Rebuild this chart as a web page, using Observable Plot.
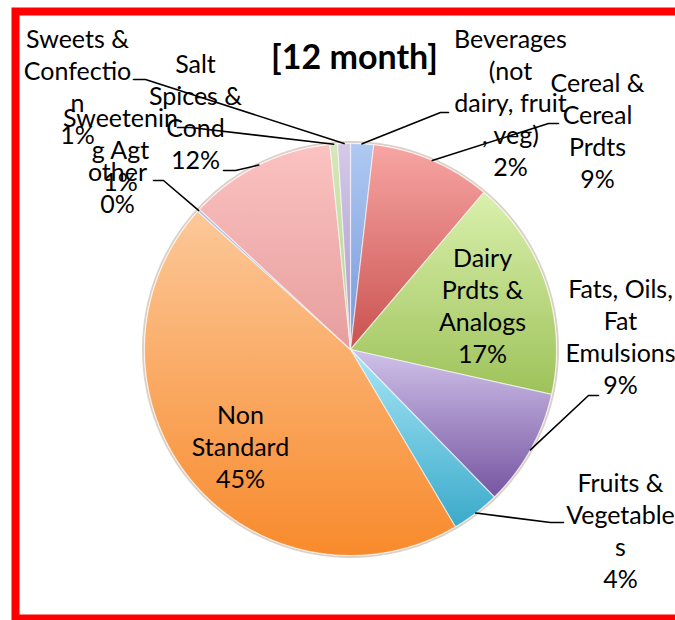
<!DOCTYPE html>
<html><head><meta charset="utf-8">
<script src="https://cdn.jsdelivr.net/npm/d3@7"></script>
<script src="https://cdn.jsdelivr.net/npm/@observablehq/plot@0.6"></script>
<style>
html,body{margin:0;padding:0;background:#fff;}
</style></head><body><div id="chart"></div>
<script>
// ---- data ----
const categories = ["Beverages (not dairy, fruit, veg)", "Cereal & Cereal Prdts", "Dairy Prdts & Analogs", "Fats, Oils, Fat Emulsions", "Fruits & Vegetables", "Non Standard", "other", "Salt Spices & Cond", "Sweetening Agt", "Sweets & Confection"];
const shares = [1.8, 9.4, 17.3, 9.2, 3.8, 45.2, 0.2, 11.5, 0.6, 1.0];
const wrappedNames = ["Beverages\n(not\ndairy, fruit\n, veg)", "Cereal &\nCereal\nPrdts", "Dairy\nPrdts &\nAnalogs", "Fats, Oils,\nFat\nEmulsions", "Fruits &\nVegetable\ns", "Non\nStandard", "other", "Salt\nSpices &\nCond", "Sweetenin\ng Agt", "Sweets &\nConfectio\nn"];
const title = "[12 month]";

// ---- styles ----
const colorTop = ["#AFC9F2", "#F7A5A3", "#D9F0AC", "#D0C2EA", "#A8E6F6", "#FCC899", "#AFC4E6", "#FBC2C1", "#D6E8BA", "#D4CAE8"];
const colorBottom = ["#7598D8", "#C9524F", "#9EC25A", "#7655A1", "#3AAACA", "#F88A2C", "#8CA6D2", "#E69E9D", "#B4D08B", "#A897CC"];

// ---- layout ----
const W = 675, H = 620, cx = 350, cy = 349, R = 206;
// label anchor: x center, y of last baseline; leader: [horizontal end x, elbow x, y]
const labelLayout = [
  {x: 510, y: 175, leader: [448, 440, 112]},
  {x: 597, y: 187, leader: [558, 548, 123]},
  {x: 482, y: 362, leader: null},
  {x: 620, y: 393, leader: [598, 588, 395]},
  {x: 620, y: 587, leader: [563, 550, 522]},
  {x: 240, y: 487, leader: null},
  {x: 117, y: 212, leader: [153, 163, 180]},
  {x: 195, y: 168, leader: [223, 235, 170]},
  {x: 120, y: 190, leader: [177, 190, 127]},
  {x: 77, y: 143, leader: [133, 145, 79]}
];
const titlePos = {x: 354, y: 68};

// ---- geometry from data ----
const arcs = d3.pie().sort(null).value(d => d)(shares);
const slicePts = arcs.map((p, i) => {
  const pts = [{x: cx, y: cy}];
  const n = Math.max(2, Math.ceil((p.endAngle - p.startAngle) / (Math.PI / 360)));
  for (let k = 0; k <= n; k++) {
    const a = p.startAngle + (p.endAngle - p.startAngle) * k / n;
    pts.push({x: cx + R * Math.sin(a), y: cy - R * Math.cos(a)});
  }
  pts.push({x: cx, y: cy});
  return pts;
});
const labels = arcs.map((p, i) => {
  const pct = Math.round(shares[i]);
  return {x: labelLayout[i].x, y: labelLayout[i].y, text: wrappedNames[i] + "\n" + pct + "%"};
});
const leaders = [];
arcs.forEach((p, i) => {
  const L = labelLayout[i].leader;
  if (!L) return;
  const mid = (p.startAngle + p.endAngle) / 2;
  leaders.push({k: i, x: L[0], y: L[2]});
  leaders.push({k: i, x: L[1], y: L[2]});
  leaders.push({k: i, x: cx + R * Math.sin(mid), y: cy - R * Math.cos(mid)});
});

const defsMark = () => {
  const ns = "http://www.w3.org/2000/svg";
  const defs = document.createElementNS(ns, "defs");
  colorTop.forEach((c, i) => {
    const g = document.createElementNS(ns, "linearGradient");
    g.setAttribute("id", "sg" + i);
    g.setAttribute("x1", "0"); g.setAttribute("y1", "0");
    g.setAttribute("x2", "0"); g.setAttribute("y2", "1");
    const s1 = document.createElementNS(ns, "stop");
    s1.setAttribute("offset", "0"); s1.setAttribute("stop-color", c);
    const s2 = document.createElementNS(ns, "stop");
    s2.setAttribute("offset", "1"); s2.setAttribute("stop-color", colorBottom[i]);
    g.appendChild(s1); g.appendChild(s2);
    defs.appendChild(g);
  });
  return defs;
};

const sliceMarks = slicePts.map((pts, i) => Plot.line(pts, {
  x: "x", y: "y", fill: `url(#sg${i})`, stroke: "#ffffff", strokeOpacity: 0.55, strokeWidth: 1.2, strokeLinejoin: "round"
}));

const chart = Plot.plot({
  width: W, height: H,
  margin: 0,
  x: {type: "linear", domain: [0, W], range: [0, W], axis: null},
  y: {type: "linear", domain: [0, H], range: [0, H], axis: null},
  style: {background: "#fff"},
  marks: [
    defsMark,
    Plot.dot([{x: cx, y: cy}], {x: "x", y: "y", r: R + 1.5, fill: "none", stroke: "#9a7a60", strokeOpacity: 0.35, strokeWidth: 2}),
    ...sliceMarks,
    Plot.line(leaders, {x: "x", y: "y", z: "k", stroke: "#000", strokeWidth: 1.6}),
    Plot.text(labels, {x: "x", y: "y", text: "text", lineAnchor: "bottom", textAnchor: "middle", lineHeight: 32 / 25, fontSize: 25, fontFamily: "Lato", fill: "#000"}),
    Plot.text([titlePos], {x: "x", y: "y", text: () => title, lineAnchor: "bottom", textAnchor: "middle", fontSize: 34, fontWeight: "bold", fontFamily: "Lato", fill: "#000"}),
    Plot.frame({stroke: "#ff0000", strokeWidth: 8, insetLeft: 15, insetTop: 11, insetBottom: 2, insetRight: -10})
  ]
});
document.getElementById("chart").appendChild(chart);
</script>
</body></html>
